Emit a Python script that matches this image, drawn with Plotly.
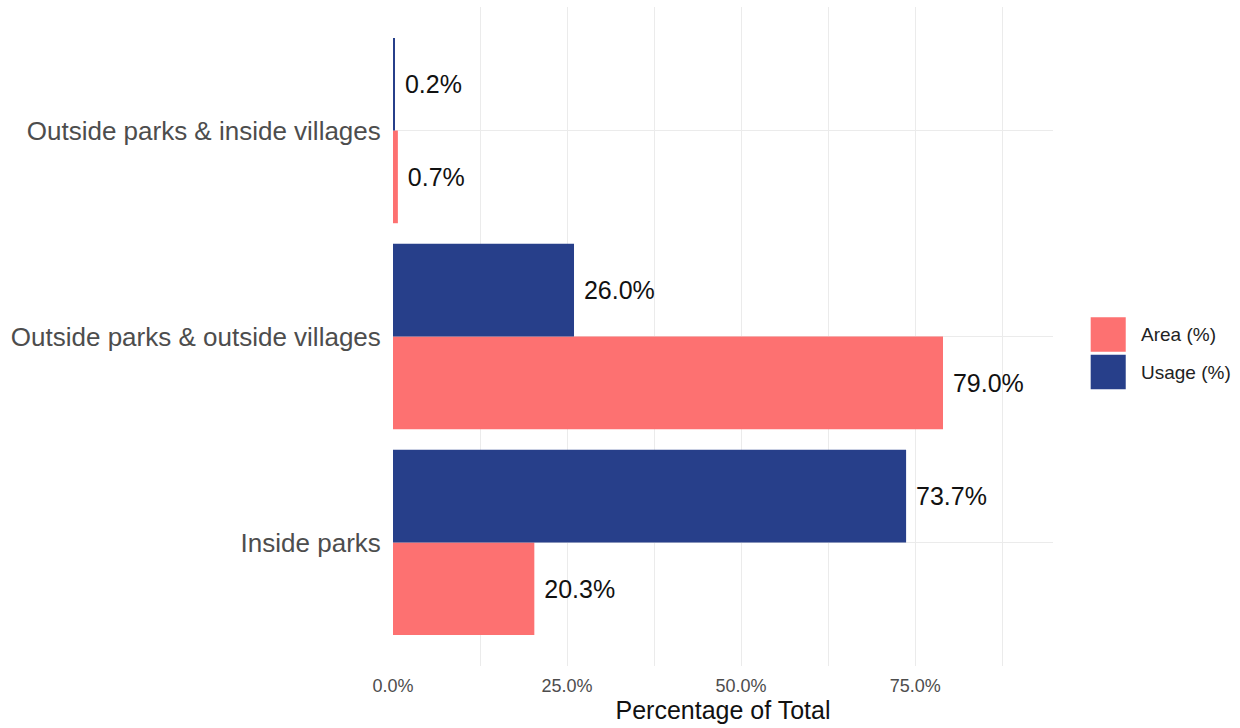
import plotly.graph_objects as go

categories = ["Inside parks", "Outside parks & outside villages", "Outside parks & inside villages"]
area_pct = [20.3, 79.0, 0.7]
usage_pct = [73.7, 26.0, 0.2]
series_names = ["Area (%)", "Usage (%)"]
series_colors = ["#FD7171", "#273F8A"]
x_ticks = [0, 25, 50, 75]
x_ticklabels = ["0.0%", "25.0%", "50.0%", "75.0%"]

FONT = "Liberation Sans, Arial, sans-serif"

fig = go.Figure()
for name, vals, col in zip(series_names, [area_pct, usage_pct], series_colors):
    fig.add_trace(go.Bar(
        y=categories, x=vals, orientation="h", name=name,
        marker=dict(color=col, line=dict(width=0)),
        text=[f" {v:.1f}%" for v in vals],
        textposition="outside", cliponaxis=False, constraintext="none",
        textfont=dict(family=FONT, size=25, color="#111111"),
        showlegend=False,
    ))

xmax = max(area_pct + usage_pct) * 1.2

fig.update_layout(
    width=1240, height=728,
    margin=dict(l=393, r=187, t=7, b=62),
    paper_bgcolor="white", plot_bgcolor="white",
    barmode="group", bargap=0.1, bargroupgap=0,
    font=dict(family=FONT),
    xaxis=dict(
        range=[0, xmax], tickvals=x_ticks, ticktext=x_ticklabels,
        automargin=False,
        showgrid=True, gridcolor="#EBEBEB", gridwidth=1.3,
        minor=dict(dtick=12.5, tick0=0, showgrid=True, gridcolor="#EBEBEB", gridwidth=0.7),
        zeroline=False, showline=False,
        ticks="outside", ticklen=3, tickcolor="rgba(0,0,0,0)",
        tickfont=dict(family=FONT, size=18, color="#4D4D4D"),
        title=dict(text="Percentage of Total", font=dict(family=FONT, size=25, color="#111111"), standoff=0),
    ),
    yaxis=dict(
        categoryorder="array", categoryarray=categories, range=[-0.6, 2.6],
        automargin=False,
        showgrid=True, gridcolor="#EBEBEB", gridwidth=1.3,
        zeroline=False, showline=False,
        ticks="outside", ticklen=6, tickcolor="rgba(0,0,0,0)",
        tickfont=dict(family=FONT, size=26, color="#4D4D4D"),
    ),
)

# legend drawn as keys
legend_y = [0.503, 0.446]
for name, col, yc in zip(series_names, series_colors, legend_y):
    fig.add_shape(type="rect", xref="paper", yref="paper",
                  x0=1.0571, x1=1.1102, y0=yc - 0.0262, y1=yc + 0.0262,
                  fillcolor=col, line=dict(width=0))
    fig.add_annotation(text=name, xref="paper", yref="paper", x=1.1303, y=yc,
                       xanchor="left", yanchor="middle", showarrow=False,
                       font=dict(family=FONT, size=19, color="#222222"))

fig.write_html("out.html", config={"displayModeBar": False},
               post_script="document.body.style.margin='0';document.body.style.overflow='hidden';")
